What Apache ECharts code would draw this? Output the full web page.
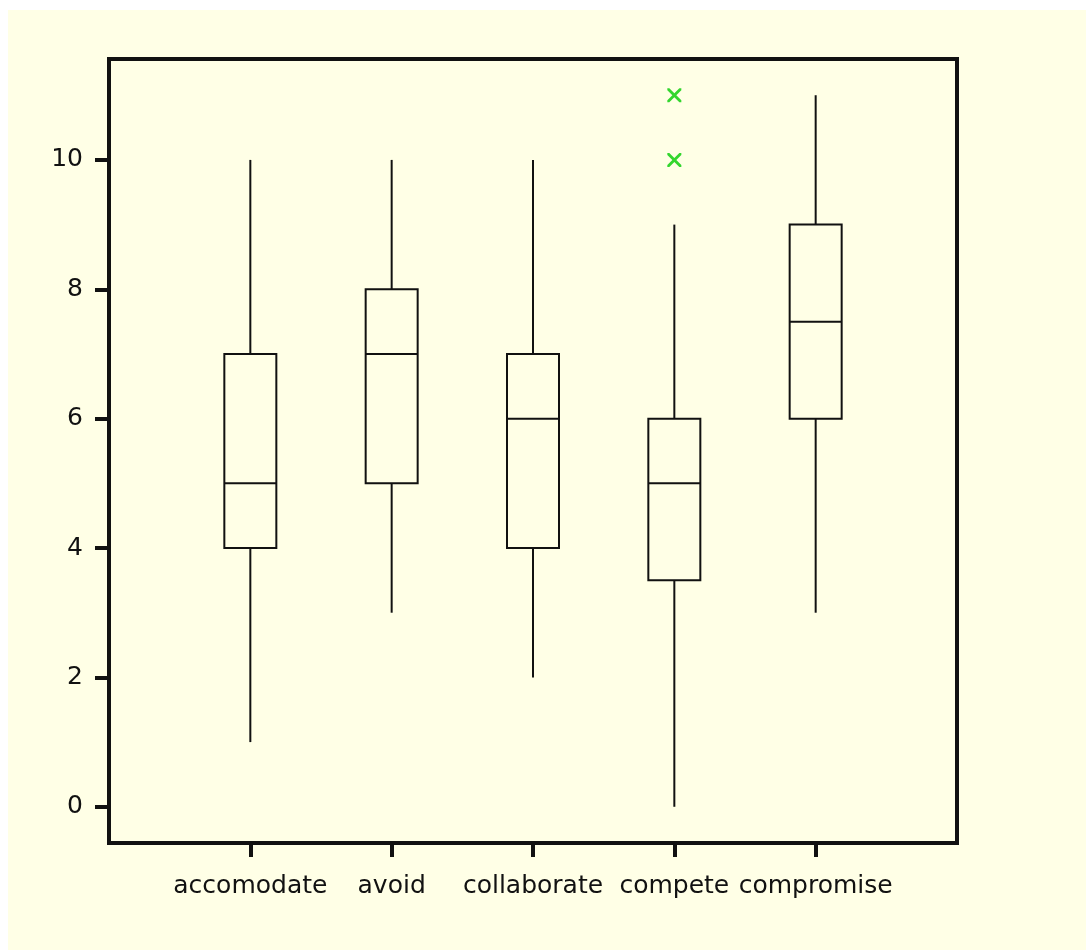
<!DOCTYPE html>
<html>
<head>
<meta charset="utf-8">
<script src="https://cdn.jsdelivr.net/npm/echarts@6/dist/echarts.min.js"></script>
<style>
  html, body { margin: 0; padding: 0; background: #ffffff; }
  #chart { position: absolute; left: 8px; top: 10px; width: 1078px; height: 940px; background: #ffffe6; }
</style>
</head>
<body>
<div id="chart"></div>
<script>
var categories = ['accomodate', 'avoid', 'collaborate', 'compete', 'compromise'];
var whiskerLow = [1, 3, 2, 0, 3];
var q1 = [4, 5, 4, 3.5, 6];
var median = [5, 7, 6, 5, 7.5];
var q3 = [7, 8, 7, 6, 9];
var whiskerHigh = [10, 10, 10, 9, 11];
var outlierCat = ['compete', 'compete'];
var outlierVal = [11, 10];
var yTicks = [0, 2, 4, 6, 8, 10];

var ink = '#111111';
var font = 'DejaVu Sans';

var boxData = categories.map(function (c, i) {
  return [i + 1, whiskerLow[i], q1[i], median[i], q3[i], whiskerHigh[i]];
});
var outlierData = outlierCat.map(function (c, i) {
  return [categories.indexOf(c) + 1, outlierVal[i]];
});

function renderBox (params, api) {
  var x = api.value(0);
  var lo = api.coord([x, api.value(1)]);
  var b1 = api.coord([x, api.value(2)]);
  var md = api.coord([x, api.value(3)]);
  var b3 = api.coord([x, api.value(4)]);
  var hi = api.coord([x, api.value(5)]);
  var half = 26;
  var st = { stroke: ink, lineWidth: 2, fill: null };
  return {
    type: 'group',
    children: [
      { type: 'line', shape: { x1: hi[0], y1: hi[1], x2: b3[0], y2: b3[1] }, style: st },
      { type: 'line', shape: { x1: b1[0], y1: b1[1], x2: lo[0], y2: lo[1] }, style: st },
      { type: 'rect', shape: { x: b3[0] - half, y: b3[1], width: half * 2, height: b1[1] - b3[1] }, style: st },
      { type: 'line', shape: { x1: md[0] - half, y1: md[1], x2: md[0] + half, y2: md[1] }, style: st }
    ]
  };
}

var myChart = echarts.init(document.getElementById('chart'));
var option = {
  animation: false,
  backgroundColor: '#ffffe6',
  grid: {
    left: 101, top: 49, right: 129, bottom: 107,
    show: true,
    borderColor: ink,
    borderWidth: 4,
    backgroundColor: 'transparent'
  },
  xAxis: {
    type: 'value',
    min: 0,
    max: 6,
    splitLine: { show: false },
    axisLine: { show: false, onZero: false },
    axisTick: { show: true, length: 14, lineStyle: { color: ink, width: 4 }, customValues: [1, 2, 3, 4, 5] },
    axisLabel: {
      customValues: [1, 2, 3, 4, 5],
      margin: 31,
      color: ink,
      fontFamily: font,
      fontSize: 25,
      formatter: function (v) { return categories[v - 1] || ''; }
    }
  },
  yAxis: {
    type: 'value',
    min: -0.56,
    max: 11.56,
    splitLine: { show: false },
    axisLine: { show: false, onZero: false },
    axisTick: { show: true, length: 14, lineStyle: { color: ink, width: 4 }, customValues: yTicks },
    axisLabel: {
      customValues: yTicks,
      margin: 26,
      color: ink,
      fontFamily: font,
      fontSize: 25
    }
  },
  series: [
    {
      type: 'custom',
      renderItem: renderBox,
      data: boxData,
      silent: true
    },
    {
      type: 'scatter',
      data: outlierData,
      symbol: 'path://M0,0 L2,0 L7,5 L12,0 L14,0 L14,2 L9,7 L14,12 L14,14 L12,14 L7,9 L2,14 L0,14 L0,12 L5,7 L0,2 Z',
      symbolSize: 14,
      itemStyle: { color: '#00cc00' }
    }
  ]
};
myChart.setOption(option);
</script>
</body>
</html>
